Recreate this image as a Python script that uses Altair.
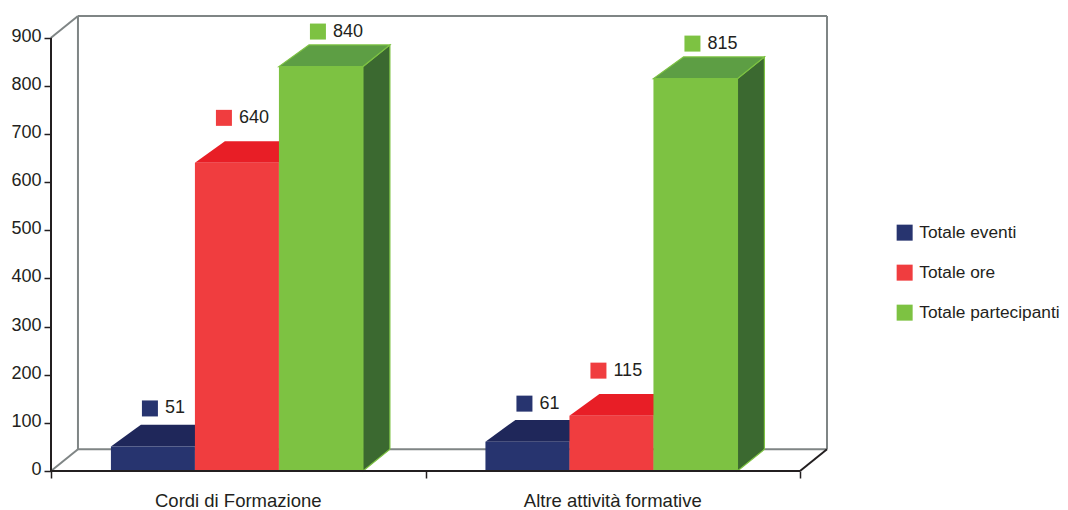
import altair as alt
import pandas as pd

categories = ["Cordi di Formazione", "Altre attività formative"]
series = ["Totale eventi", "Totale ore", "Totale partecipanti"]
values = {
    "Totale eventi": [51, 61],
    "Totale ore": [640, 115],
    "Totale partecipanti": [840, 815],
}
y_ticks = [0, 100, 200, 300, 400, 500, 600, 700, 800, 900]
x_ticks = [0, 1, 2]

FRONT = ["#27346f", "#f03d3f", "#7dc242"]
TOPC = ["#1f275a", "#e81e26", "#5d9e44"]
SIDE = ["#1b2350", "#b81c22", "#3b6930"]
EDGE = [None, None, "#7dc242"]
LABEL_DX = [39, 29, 39]
LABEL_DY = [38, 45, 35]
TEXT = "#231f20"
GREY = "#7f8585"
FONT = "Liberation Sans"

START, BAR = 0.16, 0.2243
DX_L, DX_R, DY = 0.08, 0.072, 45
XMAX, YMAX = 2.072, 945
W, H = 776, 455

xs = alt.Scale(domain=[0, XMAX], nice=False, zero=False)
ys = alt.Scale(domain=[0, YMAX], nice=False, zero=False)
x_axis = alt.Axis(values=x_ticks, labels=False, title=None, domain=False, grid=False, ticks=True,
                  tickColor=TEXT, tickSize=7, tickWidth=1.5)
y_axis = alt.Axis(values=y_ticks, title=None, domain=False, grid=False, tickColor=TEXT, tickSize=7,
                  tickWidth=1.5, labelFont=FONT, labelFontSize=18, labelColor=TEXT, labelPadding=3,
                  labelOffset=-1.5)
X = alt.X("x:Q", scale=xs, axis=x_axis)
Y = alt.Y("y:Q", scale=ys, axis=y_axis)

# frame of the box
grey_rows = [
    dict(x=0, y=900, x2=DX_R, y2=900 + DY),
    dict(x=0, y=0, x2=DX_R, y2=DY),
    dict(x=DX_R, y=DY, x2=DX_R, y2=900 + DY),
    dict(x=DX_R, y=900 + DY, x2=2 + DX_R, y2=900 + DY),
    dict(x=2 + DX_R, y=DY, x2=2 + DX_R, y2=900 + DY),
    dict(x=DX_R, y=DY, x2=2 + DX_R, y2=DY),
]
black_rows = [
    dict(x=0, y=0, x2=0, y2=900),
    dict(x=0, y=0, x2=2, y2=0),
    dict(x=2, y=0, x2=2 + DX_R, y2=DY),
]


def rules(rows, color, sw):
    return alt.Chart(pd.DataFrame(rows)).mark_rule(color=color, strokeWidth=sw).encode(
        x=X, y=Y, x2="x2:Q", y2="y2:Q"
    )


layers = [rules(grey_rows, GREY, 2)]
fronts, marks = [], []
for k, s in enumerate(series):
    side_rows, top_rows, front_rows = [], [], []
    for i, v in enumerate(values[s]):
        x0 = i + START + k * BAR
        x1 = x0 + BAR
        side_rows += [dict(x=x1, y=0, y2=v, c=i), dict(x=x1 + DX_R, y=DY, y2=v + DY, c=i)]
        top_rows += [dict(y=v, x=x0, x2=x1, c=i), dict(y=v + DY, x=x0 + DX_L, x2=x1 + DX_R, c=i)]
        front_rows.append(dict(x=x0, x2=x1, y=0, y2=v, s=s, v=v))
    edge = {"stroke": EDGE[k], "strokeWidth": 1.2} if EDGE[k] else {}
    layers.append(alt.Chart(pd.DataFrame(side_rows)).mark_area(orient="vertical", color=SIDE[k], opacity=1, **edge).encode(
        x=X, y=Y, y2="y2:Q", detail="c:N"))
    layers.append(alt.Chart(pd.DataFrame(top_rows)).mark_area(orient="horizontal", color=TOPC[k], opacity=1, **edge).encode(
        x=X, y=Y, x2="x2:Q", detail="c:N"))
    df = pd.DataFrame(front_rows)
    fronts.append(alt.Chart(df).mark_bar(cornerRadius=0).encode(
        x=X, x2="x2:Q", y=Y, y2="y2:Q",
        color=alt.Color("s:N", scale=alt.Scale(domain=series, range=FRONT),
                        legend=alt.Legend(orient="none", legendX=845, legendY=208, title=None,
                                          symbolType="square", symbolSize=256, symbolStrokeWidth=0,
                                          labelFont=FONT, labelFontSize=17.3, labelColor=TEXT,
                                          labelOffset=6, rowPadding=22, labelLimit=300)),
    ))
    lab = df.assign(y=df["y2"])
    marks.append(alt.Chart(lab).mark_square(size=256, opacity=1, color=FRONT[k], xOffset=LABEL_DX[k],
                                            yOffset=-LABEL_DY[k]).encode(x=X, y=Y))
    marks.append(alt.Chart(lab).mark_text(align="left", baseline="middle", font=FONT, fontSize=18,
                                          color=TEXT, dx=LABEL_DX[k] + 15, dy=-LABEL_DY[k]).encode(
        x=X, y=Y, text="v:Q"))

cat_df = pd.DataFrame({"x": [0.5, 1.5], "y": [0, 0], "t": categories})
cats = alt.Chart(cat_df).mark_text(font=FONT, fontSize=18.5, color=TEXT, baseline="middle", dy=30).encode(
    x=X, y=Y, text="t:N")

chart = alt.layer(*layers, *fronts, rules(black_rows, TEXT, 2), *marks, cats).properties(
    width=W, height=H,
    padding={"left": 43, "top": 8, "right": 233, "bottom": 39},
    autosize=alt.AutoSizeParams(type="none"),
).resolve_scale(x="shared", y="shared").configure_view(stroke=None)

chart.save("out.html", embed_options={"renderer": "svg", "actions": False})
